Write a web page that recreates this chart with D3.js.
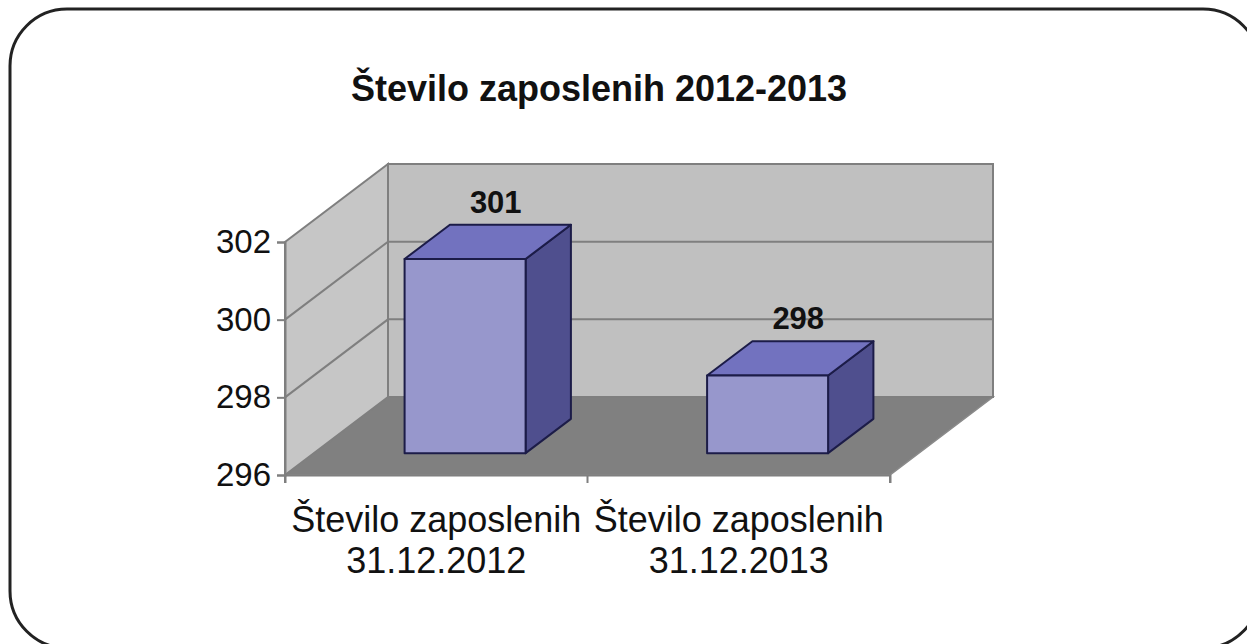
<!DOCTYPE html>
<html>
<head>
<meta charset="utf-8">
<script src="https://cdn.jsdelivr.net/npm/d3@7/dist/d3.min.js"></script>
<style>
  html, body { margin: 0; padding: 0; background: #fff; }
  svg { display: block; }
</style>
</head>
<body>
<svg id="chart" width="1247" height="644"></svg>
<script>
// Chart content
const titleText = "Število zaposlenih 2012-2013";
const categories = ["2012", "2013"];
const categoryLines = [
  ["Število zaposlenih", "31.12.2012"],
  ["Število zaposlenih", "31.12.2013"]
];
const values = [301, 298];
const yTicks = [296, 298, 300, 302];

const svg = d3.select("#chart");
const font = "'Liberation Sans', Arial, sans-serif";

// Rounded outer frame
svg.append("rect")
  .attr("x", 10).attr("y", 9)
  .attr("width", 1250).attr("height", 639)
  .attr("rx", 57).attr("ry", 57)
  .attr("fill", "#fff")
  .attr("stroke", "#222").attr("stroke-width", 3);

// Title
svg.append("text")
  .attr("x", 599).attr("y", 101)
  .attr("text-anchor", "middle")
  .attr("font-family", font).attr("font-weight", "bold")
  .attr("font-size", 36).attr("fill", "#111")
  .text(titleText);

// Scales for the front plane, plus an oblique depth offset
const x = d3.scaleBand().domain(categories).range([285, 890]).padding(0);
const y = d3.scaleLinear().domain([296, 302]).range([475, 242]);
const DX = 103, DY = 78;
const proj = (px, v, z) => [px + z * DX, y(v) - z * DY];
const poly = pts => "M" + pts.map(p => p.join(",")).join("L") + "Z";

const x0 = x.range()[0], x1 = x.range()[1];
const vMin = y.domain()[0], vMax = y.domain()[1];
const wallStroke = "#7f7f7f";

// Floor
svg.append("path")
  .attr("d", poly([proj(x0, vMin, 0), proj(x1, vMin, 0), proj(x1, vMin, 1), proj(x0, vMin, 1)]))
  .attr("fill", "#808080").attr("stroke", "#8a8a8a").attr("stroke-width", 1.5);

// Back wall
svg.append("path")
  .attr("d", poly([proj(x0, vMin, 1), proj(x1, vMin, 1), proj(x1, vMax, 1), proj(x0, vMax, 1)]))
  .attr("fill", "#c0c0c0").attr("stroke", wallStroke).attr("stroke-width", 2);

// Side wall
svg.append("path")
  .attr("d", poly([proj(x0, vMin, 0), proj(x0, vMin, 1), proj(x0, vMax, 1), proj(x0, vMax, 0)]))
  .attr("fill", "#c6c6c6").attr("stroke", wallStroke).attr("stroke-width", 2);

// Gridlines along side and back walls
const grid = svg.append("g").attr("fill", "none").attr("stroke", wallStroke).attr("stroke-width", 2);
yTicks.filter(t => t > vMin && t < vMax).forEach(t => {
  const a = proj(x0, t, 0), b = proj(x0, t, 1), c = proj(x1, t, 1);
  grid.append("path").attr("d", `M${a}L${b}L${c}`);
});

// Value axis with tick labels
const yAxis = d3.axisLeft(y).tickValues(yTicks).tickSize(8).tickPadding(6).tickFormat(d3.format("d"));
const gy = svg.append("g").attr("transform", `translate(${x0},0)`).call(yAxis);
gy.select(".domain").attr("stroke", wallStroke).attr("stroke-width", 2);
gy.selectAll(".tick line").attr("stroke", wallStroke).attr("stroke-width", 2);
gy.selectAll(".tick text")
  .attr("font-family", font).attr("font-size", 33).attr("fill", "#111");

// Category axis
const xAxis = d3.axisBottom(x).tickSize(8).tickFormat(() => "");
const gx = svg.append("g").attr("transform", `translate(0,${y(vMin)})`).call(xAxis);
gx.select(".domain").attr("stroke", wallStroke).attr("stroke-width", 2);
gx.selectAll(".tick line").remove();
const edges = [x0, ...categories.slice(1).map(c => x(c)), x1];
gx.selectAll("line.edge").data(edges).enter().append("line")
  .attr("class", "edge")
  .attr("x1", d => d).attr("x2", d => d).attr("y1", 0).attr("y2", 8)
  .attr("stroke", wallStroke).attr("stroke-width", 2);

// Category labels
categories.forEach((c, i) => {
  const cx = x(c) + x.bandwidth() / 2;
  const t = svg.append("text")
    .attr("text-anchor", "middle")
    .attr("font-family", font).attr("font-size", 36).attr("fill", "#111");
  categoryLines[i].forEach((line, j) => {
    t.append("tspan").attr("x", cx).attr("y", 532 + j * 41).text(line);
  });
});

// 3D bars
const z0 = 0.28, z1 = 0.72;
const half = x.bandwidth() * 0.2;
const bars = svg.append("g").attr("stroke", "#1c1c48").attr("stroke-width", 2).attr("stroke-linejoin", "round");
categories.forEach((c, i) => {
  const cx = x(c) + x.bandwidth() / 2;
  const l = cx - half, r = cx + half, v = values[i];
  // right side face
  bars.append("path")
    .attr("d", poly([proj(r, vMin, z0), proj(r, vMin, z1), proj(r, v, z1), proj(r, v, z0)]))
    .attr("fill", "#4f4f8e");
  // top face
  bars.append("path")
    .attr("d", poly([proj(l, v, z0), proj(r, v, z0), proj(r, v, z1), proj(l, v, z1)]))
    .attr("fill", "#7272bf");
  // front face
  bars.append("path")
    .attr("d", poly([proj(l, vMin, z0), proj(r, vMin, z0), proj(r, v, z0), proj(l, v, z0)]))
    .attr("fill", "#9797cc");
  // value label
  const top = proj(cx, v, (z0 + z1) / 2);
  svg.append("text")
    .attr("x", top[0] + 8)
    .attr("y", y(v) - z1 * DY - 12)
    .attr("text-anchor", "middle")
    .attr("font-family", font).attr("font-weight", "bold")
    .attr("font-size", 31).attr("fill", "#111")
    .text(d3.format("d")(v));
});
</script>
</body>
</html>
